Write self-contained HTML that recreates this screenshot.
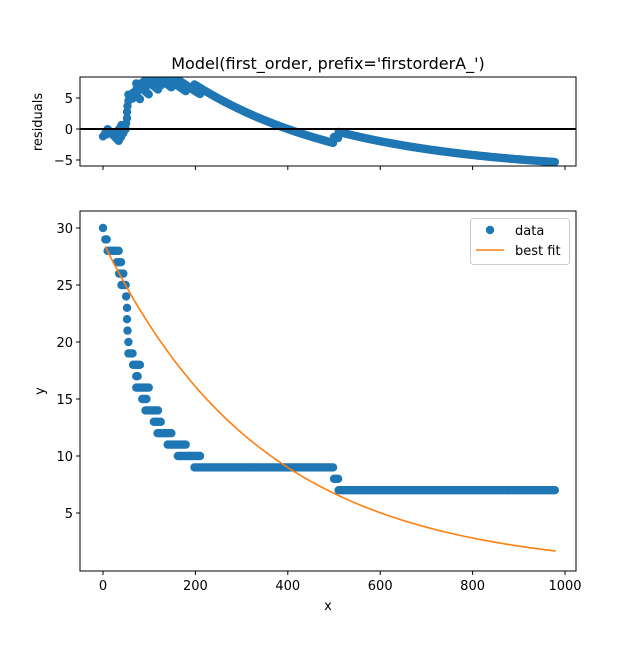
<!DOCTYPE html>
<html><head><meta charset="utf-8"><style>
body{margin:0;background:#fff}
svg text{font-family:"DejaVu Sans","Liberation Sans",sans-serif;fill:#000}
</style></head><body>
<svg id="c" width="640" height="640" xmlns="http://www.w3.org/2000/svg"></svg>
<script>
// step data: level y and its x-range
const levelY = [30,29,28,27,26,25,24,23,22,21,20,19,18,17,16,15,14,13,12,11,10,9,8,7];
const levelStart = [0,5,10,30,35,40,50,52,52,53,55,55,65,72,72,85,92,110,118,140,162,198,500,510];
const levelEnd   = [0,8,35,40,45,50,52,54,54,55,57,65,80,76,100,95,120,125,150,180,210,500,510,980];
const fitA = 28.8, fitK = 0.00291;
const xTicks = [0,200,400,600,800,1000];
const yTicks = [5,10,15,20,25,30];
const rTicks = [-5,0,5];

const NS="http://www.w3.org/2000/svg", svg=document.getElementById('c');
function el(t,a,p){const e=document.createElementNS(NS,t);for(const k in a)e.setAttribute(k,a[k]);(p||svg).appendChild(e);return e;}
const X=x=>103+0.462*x;
const Y=y=>570-11.4*y;
const R=r=>129-6.2*r;
const fit=x=>fitA*Math.exp(-fitK*x);

const px=[],py=[];
for(let i=0;i<levelY.length;i++){for(let x=levelStart[i];x<=levelEnd[i];x+=3){px.push(x);py.push(levelY[i]);}}

let t=el('text',{x:328,y:69,'font-size':16,'text-anchor':'middle'});t.textContent="Model(first_order, prefix='firstorderA_')";



const gTop=el('g',{});


const clipT=el('clipPath',{id:'ct'});el('rect',{x:80,y:77,width:496,height:89},clipT);
const gR=el('g',{'clip-path':'url(#ct)'},gTop);
for(let i=0;i<px.length;i++){
 const c=el('circle',{cx:X(px[i]),cy:R(fit(px[i])-py[i]),r:4.2,fill:'#1f77b4'},gR);
 
 
}
const zl=el('line',{x1:80,x2:576,y1:R(0),y2:R(0),stroke:'#000','stroke-width':2},gTop);


el('rect',{x:80,y:77,width:496,height:89,fill:'none',stroke:'#000','stroke-width':1},gTop);
rTicks.forEach(v=>{el('line',{x1:76,x2:80,y1:R(v),y2:R(v),stroke:'#000'},gTop);
 const tt=el('text',{x:73,y:R(v)+5,'font-size':13,'text-anchor':'end'},gTop);tt.textContent=v<0?'\u2212'+(-v):v;
 
 });
xTicks.forEach(v=>el('line',{x1:X(v),x2:X(v),y1:166,y2:170,stroke:'#000'},gTop));
t=el('text',{x:0,y:0,'font-size':13,'text-anchor':'middle',transform:'translate(42,122) rotate(-90)'},gTop);t.textContent='residuals';



const gB=el('g',{});


for(let i=0;i<px.length;i++){
 const c=el('circle',{cx:X(px[i]),cy:Y(py[i]),r:4.2,fill:'#1f77b4'},gB);
 
 
}
let d='';for(let x=5;x<=980;x+=5)d+=(x===5?'M':'L')+X(x).toFixed(1)+','+Y(fit(x)).toFixed(1);
const fl=el('path',{d:d,fill:'none',stroke:'#ff7f0e','stroke-width':1.6},gB);


el('rect',{x:80,y:211,width:496,height:360,fill:'none',stroke:'#000','stroke-width':1},gB);
yTicks.forEach(v=>{el('line',{x1:76,x2:80,y1:Y(v),y2:Y(v),stroke:'#000'},gB);
 const tt=el('text',{x:73,y:Y(v)+5,'font-size':13,'text-anchor':'end'},gB);tt.textContent=v;
 
 });
xTicks.forEach(v=>{el('line',{x1:X(v),x2:X(v),y1:571,y2:575,stroke:'#000'},gB);
 const tt=el('text',{x:X(v),y:590,'font-size':13,'text-anchor':'middle'},gB);tt.textContent=v;
 
 });
t=el('text',{x:328,y:610,'font-size':13,'text-anchor':'middle'},gB);t.textContent='x';


t=el('text',{x:0,y:0,'font-size':13,'text-anchor':'middle',transform:'translate(44,391) rotate(-90)'},gB);t.textContent='y';



const lg=el('g',{});


el('rect',{x:470.5,y:218.5,width:99,height:46,rx:3,fill:'#fff',stroke:'#ccc'},lg);
el('circle',{cx:490,cy:230,r:4.2,fill:'#1f77b4'},lg);
t=el('text',{x:515,y:235,'font-size':13},lg);t.textContent='data';


el('line',{x1:476,x2:504,y1:250,y2:250,stroke:'#ff7f0e','stroke-width':1.6},lg);
t=el('text',{x:515,y:255,'font-size':13},lg);t.textContent='best fit';


</script>
</body></html>
